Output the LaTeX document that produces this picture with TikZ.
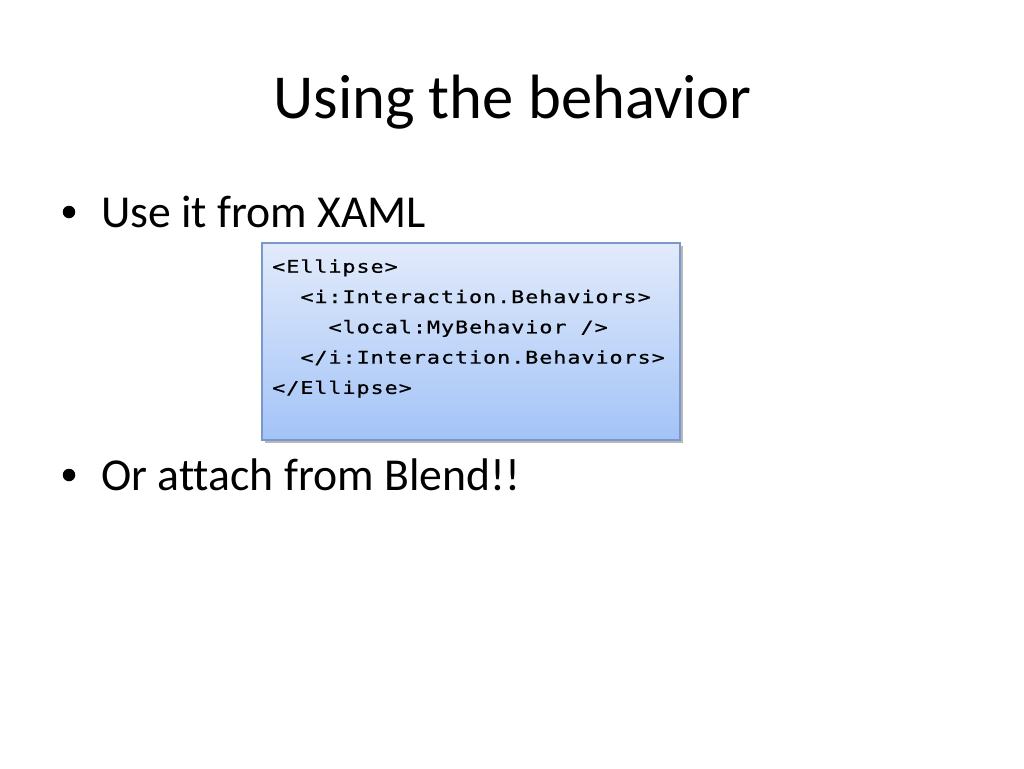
\documentclass[tikz,border=0pt]{standalone}
\usepackage{fontspec}
\setmainfont{Carlito}[Ligatures={NoCommon}]
\newfontfamily\codefont[FakeStretch=1.25,LetterSpace=5.5,FakeBold=0.7]{DejaVu Sans Mono}
\definecolor{boxtop}{RGB}{226,235,251}
\definecolor{boxbot}{RGB}{163,195,247}
\definecolor{boxline}{RGB}{122,152,204}
\tikzset{
  title/.style={anchor=base,inner sep=0pt,font=\fontsize{62.6}{75}\selectfont},
  bullettext/.style={anchor=base west,inner sep=0pt,font=\fontsize{45.7}{55}\selectfont},
  bulletdot/.style={circle,fill=black,inner sep=0pt,minimum size=12.5pt},
  codeline/.style={anchor=base west,inner sep=0pt,font=\codefont\fontsize{17.4}{20}\selectfont},
  codebox/.style={top color=boxtop,bottom color=boxbot}
}
\begin{document}
\begin{tikzpicture}[x=1pt,y=-1pt]
\useasboundingbox (0,0) rectangle (1024,768);
\fill[white] (0,0) rectangle (1024,768);
\node[title] (title) at (512.5,118) {Using the behavior};
\node[bulletdot] (b1) at (69,212) {};
\node[bullettext] (t1) at (101,227) {Use it from XAML};
% code box with shadow
\fill[black!28] (264.5,245.5) rectangle (682.5,442.5);
\shade[codebox] (262,243) rectangle (680,440);
\draw[boxline,line width=1.2pt] (262,243) rectangle (680,440);
\node[codeline] (c1) at (272,272.7) {<Ellipse>};
\node[codeline] (c2) at (300.2,303) {<i:Interaction.Behaviors>};
\node[codeline] (c3) at (328.4,333.3) {<local:MyBehavior />};
\node[codeline] (c4) at (300.2,363.6) {</i:Interaction.Behaviors>};
\node[codeline] (c5) at (272,393.9) {</Ellipse>};
\node[bulletdot] (b2) at (69,475) {};
\node[bullettext] (t2) at (101,490) {Or attach from Blend!!};
\end{tikzpicture}
\end{document}
